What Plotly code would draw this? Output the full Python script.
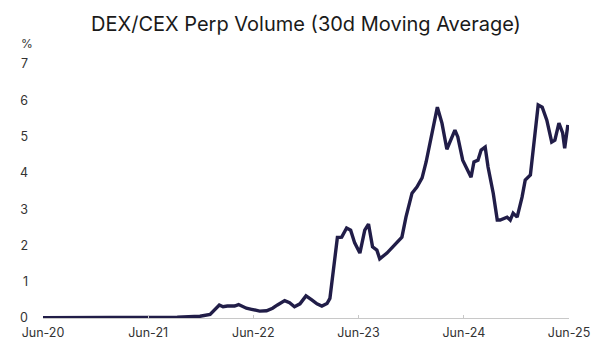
import plotly.graph_objects as go

# 30-day moving average of DEX perp volume as a share of CEX perp volume (%)
dates = [
    "2020-06-01", "2020-09-01", "2020-12-01", "2021-03-01", "2021-06-01",
    "2021-09-10", "2021-11-28", "2022-01-02", "2022-02-03", "2022-02-16",
    "2022-03-03", "2022-03-28", "2022-04-11", "2022-05-08", "2022-05-26",
    "2022-06-23", "2022-07-17", "2022-08-07", "2022-08-24", "2022-09-18",
    "2022-10-05", "2022-10-22", "2022-11-10", "2022-12-01", "2022-12-21",
    "2023-01-08", "2023-01-25", "2023-02-12", "2023-02-22", "2023-03-07",
    "2023-03-20", "2023-04-04", "2023-04-21", "2023-05-05", "2023-05-19",
    "2023-06-06", "2023-06-23", "2023-07-06", "2023-07-20", "2023-08-04",
    "2023-08-14", "2023-09-08", "2023-09-25", "2023-10-12", "2023-10-30",
    "2023-11-13", "2023-12-04", "2023-12-21", "2024-01-08", "2024-01-22",
    "2024-02-12", "2024-03-01", "2024-03-17", "2024-04-03", "2024-05-01",
    "2024-05-11", "2024-05-28", "2024-06-12", "2024-06-26", "2024-07-06",
    "2024-07-20", "2024-07-31", "2024-08-14", "2024-08-24", "2024-09-11",
    "2024-09-25", "2024-10-05", "2024-10-29", "2024-11-09", "2024-11-19",
    "2024-12-03", "2024-12-20", "2024-12-31", "2025-01-18", "2025-02-04",
    "2025-02-14", "2025-02-28", "2025-03-16", "2025-04-02", "2025-04-13",
    "2025-04-27", "2025-05-10", "2025-05-17", "2025-05-28",
]
ratio_pct = [
    0.01, 0.01, 0.01, 0.01, 0.01,
    0.02, 0.05, 0.10, 0.36, 0.31,
    0.33, 0.33, 0.37, 0.27, 0.24,
    0.19, 0.20, 0.27, 0.36, 0.48,
    0.42, 0.31, 0.39, 0.61, 0.50,
    0.39, 0.33, 0.40, 0.54, 1.41,
    2.22, 2.23, 2.48, 2.42, 2.07,
    1.79, 2.42, 2.59, 1.96, 1.87,
    1.63, 1.79, 1.93, 2.07, 2.23,
    2.78, 3.44, 3.61, 3.86, 4.30,
    5.18, 5.81, 5.37, 4.65, 5.18,
    4.99, 4.35, 4.08, 3.88, 4.30,
    4.35, 4.63, 4.71, 4.16, 3.44,
    2.70, 2.70, 2.78, 2.70, 2.89,
    2.78, 3.33, 3.80, 3.94, 5.18,
    5.87, 5.81, 5.45, 4.85, 4.90,
    5.37, 5.10, 4.68, 5.32,
]

x_ticks = ["2020-06-01", "2021-06-01", "2022-06-01", "2023-06-01", "2024-06-01", "2025-06-01"]
x_tick_labels = ["Jun-20", "Jun-21", "Jun-22", "Jun-23", "Jun-24", "Jun-25"]
y_ticks = [0, 1, 2, 3, 4, 5, 6, 7]

FONT = "Inter, Lato, sans-serif"

fig = go.Figure(
    go.Scatter(
        x=dates,
        y=ratio_pct,
        mode="lines",
        line=dict(color="#211d48", width=3.4),
        hoverinfo="skip",
    )
)

fig.update_layout(
    width=602,
    height=346,
    margin=dict(l=43, r=33, t=64, b=28),
    paper_bgcolor="white",
    plot_bgcolor="white",
    showlegend=False,
    title=dict(
        text="DEX/CEX Perp Volume (30d Moving Average)",
        x=0.5,
        xref="paper",
        y=0.932,
        yref="container",
        xanchor="center",
        yanchor="middle",
        font=dict(family=FONT, size=20, color="#1a1a1a"),
    ),
    annotations=[
        dict(
            text="%",
            xref="paper",
            yref="paper",
            x=-0.030,
            y=1.079,
            xanchor="center",
            yanchor="middle",
            showarrow=False,
            font=dict(family=FONT, size=12, color="#333333"),
        )
    ],
)

fig.update_xaxes(
    type="date",
    range=["2020-06-01", "2025-06-01"],
    tickvals=x_ticks,
    ticktext=x_tick_labels,
    showgrid=False,
    zeroline=False,
    showline=True,
    linecolor="#c8c8c8",
    linewidth=1,
    ticks="inside",
    ticklen=3,
    tickcolor="#c8c8c8",
    ticklabelstandoff=3,
    automargin=False,
    tickfont=dict(family=FONT, size=12.5, color="#333333"),
    fixedrange=True,
)

fig.update_yaxes(
    range=[0, 7],
    tickvals=y_ticks,
    showgrid=False,
    zeroline=False,
    showline=False,
    ticks="",
    ticklabelstandoff=14,
    automargin=False,
    tickfont=dict(family=FONT, size=12.5, color="#333333"),
    fixedrange=True,
)

fig.write_html("out.html")
